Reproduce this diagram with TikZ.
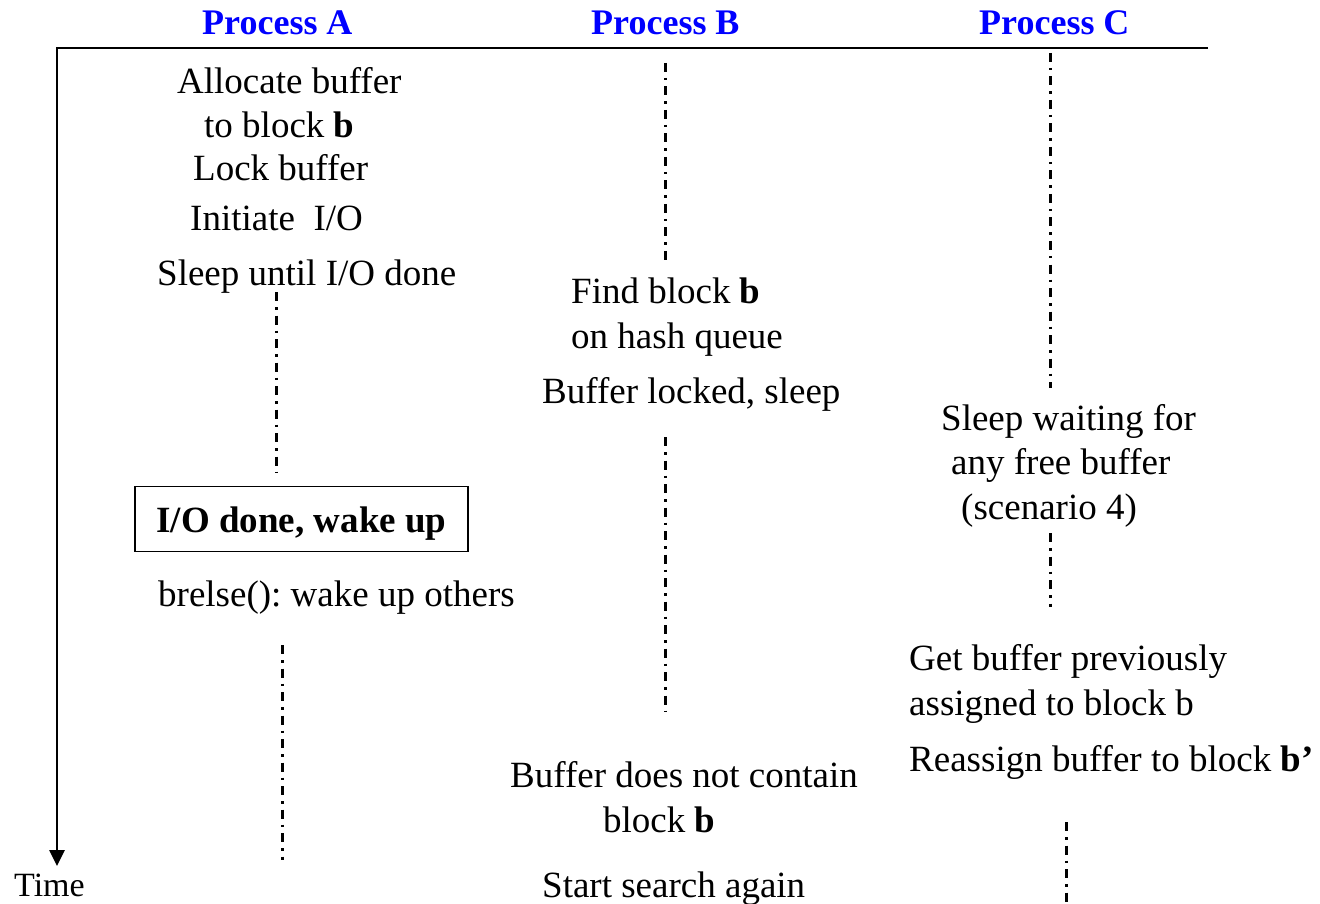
\documentclass[tikz,border=0pt]{standalone}
\usepackage{fontspec}
\setmainfont{Liberation Serif}
\usetikzlibrary{arrows.meta}
\definecolor{procblue}{RGB}{0,0,255}
\frenchspacing
\begin{document}
\begin{tikzpicture}[x=1pt,y=-1pt,
  txt/.style={anchor=base west,inner sep=0pt,font=\fontsize{37}{40}\selectfont},
  title/.style={anchor=base west,inner sep=0pt,text=procblue,font=\fontsize{36}{40}\selectfont\bfseries},
  wait/.style={line width=3pt,dash pattern=on 9pt off 6pt on 2.5pt off 6pt},
  axis/.style={line width=2.6pt},
  event/.style={draw,line width=1.6pt,minimum width=333pt,minimum height=65pt,inner sep=0pt,
    text height=26pt,text depth=0pt,font=\fontsize{37}{40}\selectfont\bfseries}]
\useasboundingbox (0,0) rectangle (1320,904);

% column headings
\node[title] (pa) at (202,35) {Process A};
\node[title] (pb) at (591,35) {Process B};
\node[title] (pc) at (979,35) {Process C};

% time axis
\coordinate (axtop) at (57,48);
\coordinate (axright) at (1208,48);
\coordinate (axend) at (57,866);
\draw[axis,-{Triangle[length=16pt,width=15pt]}] (axright) -- (axtop) -- (axend);
\node[anchor=base west,inner sep=0pt,font=\fontsize{34}{40}\selectfont] (time) at (14,896) {Time};

% Process A
\node[txt] (a1) at (177,94) {Allocate buffer};
\node[txt] (a2) at (204,138) {to block \textbf{b}};
\node[txt] (a3) at (193,181) {Lock buffer};
\node[txt] (a4) at (190,230) {Initiate\ \ I/O};
\node[txt] (a5) at (157,285) {Sleep until I/O done};
\node[event] (a6) at (301.5,519) {I/O done, wake up};
\node[txt] (a7) at (158,606) {brelse(): wake up others};
\draw[wait] (276,292) -- (276,472);
\draw[wait] (282,645) -- (282,860);

% Process B
\node[txt] (b1) at (571,303) {Find block \textbf{b}};
\node[txt] (b2) at (571,348) {on hash queue};
\node[txt] (b3) at (542,403) {Buffer locked, sleep};
\node[txt] (b4) at (510,787) {Buffer does not contain};
\node[txt] (b5) at (603,832) {block \textbf{b}};
\node[txt] (b6) at (542,897) {Start search again};
\draw[wait] (665,63) -- (665,262);
\draw[wait] (665,437) -- (665,712);

% Process C
\node[txt] (c1) at (941,430) {Sleep waiting for};
\node[txt] (c2) at (951,474) {any free buffer};
\node[txt] (c3) at (961,519) {(scenario 4)};
\node[txt] (c4) at (909,670) {Get buffer previously};
\node[txt] (c5) at (909,715) {assigned to block b};
\node[txt] (c6) at (909,771) {Reassign buffer to block \textbf{b’}};
\draw[wait] (1050,53) -- (1050,388);
\draw[wait] (1050,533) -- (1050,607);
\draw[wait] (1066,822) -- (1066,904);
\end{tikzpicture}
\end{document}
